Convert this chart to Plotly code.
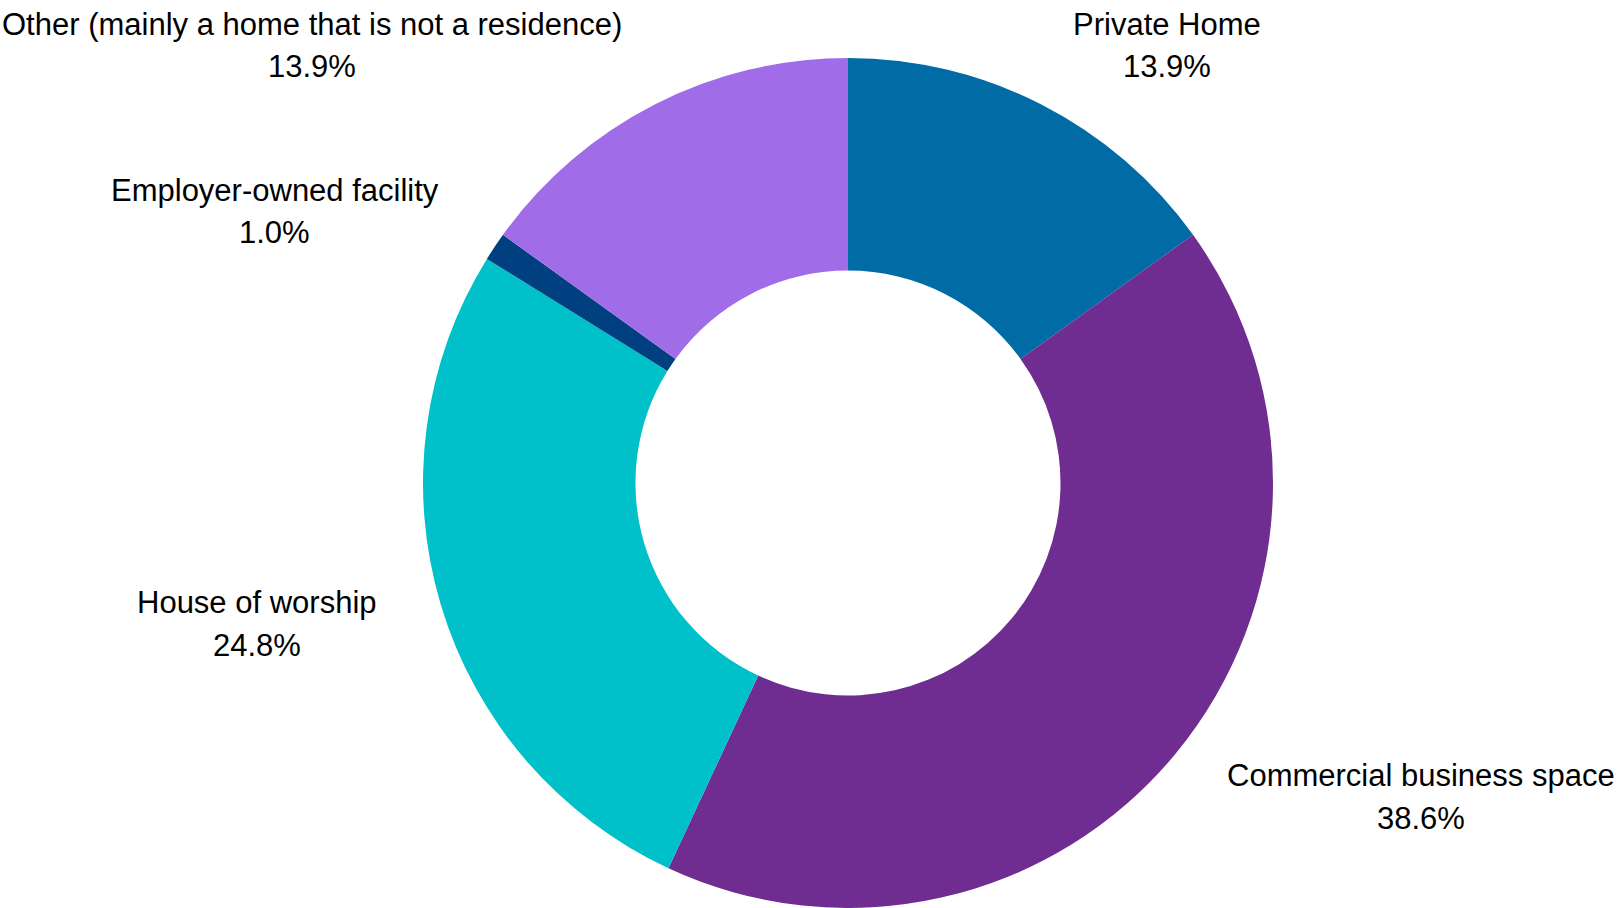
import plotly.graph_objects as go

labels = ["Private Home", "Commercial business space", "House of worship",
          "Employer-owned facility", "Other (mainly a home that is not a residence)"]
values = [13.9, 38.6, 24.8, 1.0, 13.9]
colors = ["#006ba4", "#6f2c91", "#00c1c9", "#004080", "#a16ce8"]

# label placement in figure pixels: centre x, baseline of name line, baseline of value line
label_x = [1166.5, 1421, 257, 274.5, 312]
name_baseline = [35, 786, 613, 201, 35]
value_baseline = [77, 829, 656, 243, 77]

W, H = 1622, 908
ML, MR, MT, MB = 74, 0, 58, 0
FONT = "Liberation Sans, Arial, sans-serif"
FSIZE = 31

fig = go.Figure(go.Pie(
    labels=labels,
    values=values,
    hole=0.5,
    sort=False,
    direction="clockwise",
    rotation=0,
    marker=dict(colors=colors, line=dict(width=0)),
    textinfo="none",
    automargin=False,
    showlegend=False,
    hoverinfo="label+value",
))

pw, ph = W - ML - MR, H - MT - MB
MID_OFF = 0.3465 * FSIZE  # baseline -> vertical middle of the text box


def to_paper(px, py):
    return (px - ML) / pw, 1 - (py - MT) / ph


annotations = []
for lab, val, px, b1, b2 in zip(labels, values, label_x, name_baseline, value_baseline):
    for txt, base in ((lab, b1), (f"{val:.1f}%", b2)):
        xp, yp = to_paper(px, base - MID_OFF)
        annotations.append(dict(
            text=txt,
            xref="paper", yref="paper",
            x=xp, y=yp,
            xanchor="center", yanchor="middle",
            showarrow=False,
            font=dict(family=FONT, size=FSIZE, color="#000000"),
        ))

fig.update_layout(
    width=W,
    height=H,
    margin=dict(l=ML, r=MR, t=MT, b=MB),
    paper_bgcolor="white",
    plot_bgcolor="white",
    font=dict(family=FONT, size=FSIZE, color="#000000"),
    annotations=annotations,
)

fig.write_html(
    "out.html",
    config={"displayModeBar": False},
    post_script="document.body.style.margin='0';document.body.style.overflow='hidden';",
)
